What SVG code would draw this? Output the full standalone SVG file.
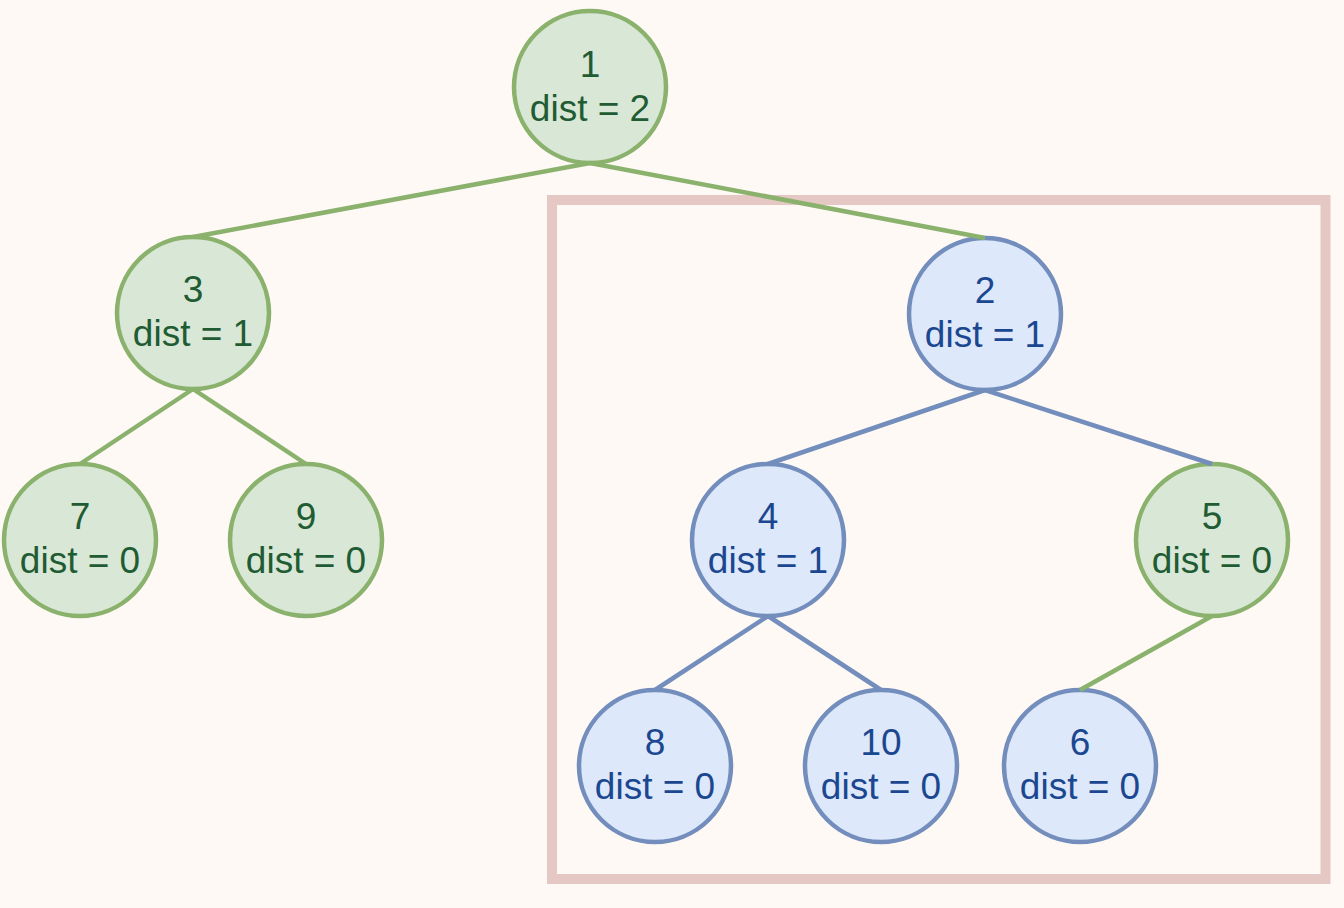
<svg xmlns="http://www.w3.org/2000/svg" width="1344" height="908" viewBox="0 0 1344 908">
<style>
text{font-family:"Liberation Sans",Arial,sans-serif;font-size:37px;text-anchor:middle}
.g circle{fill:#d9e7d6;stroke:#8ab26d;stroke-width:4.5}
.g text{fill:#1f5b33}
.b circle{fill:#dde8fa;stroke:#738ebc;stroke-width:4.5}
.b text{fill:#1b4790}
.eg{stroke:#8ab26d;stroke-width:4.5;fill:none}
.eb{stroke:#738ebc;stroke-width:4.5;fill:none}
</style>
<rect width="1344" height="908" fill="#fef9f5"/>
<rect id="subtree" x="552" y="200" width="773.5" height="679" fill="none" stroke="#e5c8c3" stroke-width="10"/>
<g id="n1" class="g"><circle cx="590" cy="87" r="76"/><text x="590" y="77">1</text><text x="590" y="121">dist = 2</text></g>
<g id="n3" class="g"><circle cx="193" cy="313" r="76"/><text x="193" y="302">3</text><text x="193" y="346">dist = 1</text></g>
<g id="n2" class="b"><circle cx="985" cy="314" r="76"/><text x="985" y="303">2</text><text x="985" y="347">dist = 1</text></g>
<g id="n7" class="g"><circle cx="80" cy="540" r="76"/><text x="80" y="529">7</text><text x="80" y="573">dist = 0</text></g>
<g id="n9" class="g"><circle cx="306" cy="540" r="76"/><text x="306" y="529">9</text><text x="306" y="573">dist = 0</text></g>
<g id="n4" class="b"><circle cx="768" cy="540" r="76"/><text x="768" y="529">4</text><text x="768" y="573">dist = 1</text></g>
<g id="n5" class="g"><circle cx="1212" cy="540" r="76"/><text x="1212" y="529">5</text><text x="1212" y="573">dist = 0</text></g>
<g id="n8" class="b"><circle cx="655" cy="766" r="76"/><text x="655" y="755">8</text><text x="655" y="799">dist = 0</text></g>
<g id="n10" class="b"><circle cx="881" cy="766" r="76"/><text x="881" y="755">10</text><text x="881" y="799">dist = 0</text></g>
<g id="n6" class="b"><circle cx="1080" cy="766" r="76"/><text x="1080" y="755">6</text><text x="1080" y="799">dist = 0</text></g>
<g id="edges">
<line class="eg" x1="590" y1="163" x2="193" y2="237"/>
<line class="eg" x1="590" y1="163" x2="985" y2="238"/>
<line class="eg" x1="193" y1="389" x2="80" y2="464"/>
<line class="eg" x1="193" y1="389" x2="306" y2="464"/>
<line class="eb" x1="985" y1="390" x2="768" y2="464"/>
<line class="eb" x1="985" y1="390" x2="1212" y2="464"/>
<line class="eb" x1="768" y1="616" x2="655" y2="690"/>
<line class="eb" x1="768" y1="616" x2="881" y2="690"/>
<line class="eg" x1="1212" y1="616" x2="1080" y2="690"/>
</g>
</svg>
